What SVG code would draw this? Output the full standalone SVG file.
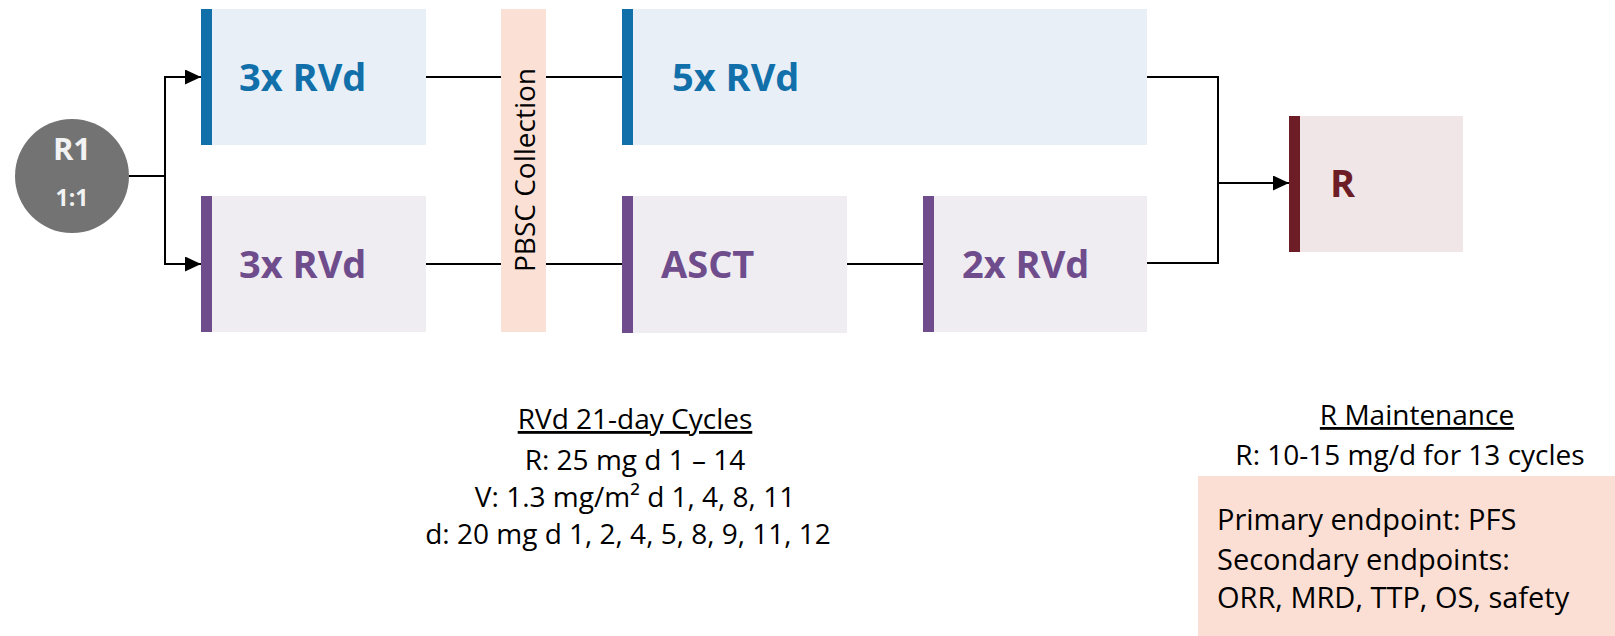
<svg xmlns="http://www.w3.org/2000/svg" width="1615" height="636" viewBox="0 0 1615 636">
  <style>
    .lbl { font-family: "Open Sans", "Liberation Sans", sans-serif; font-weight: 700; font-size: 38px; }
    .blue { fill: #1170AA; }
    .purple { fill: #6F4C8C; }
    .red { fill: #6D1D25; }
    .body { font-family: "Open Sans", "Liberation Sans", sans-serif; font-size: 28px; fill: #000000; }
    .ep { font-size: 29px; }
    .conn { fill: none; stroke: #000000; stroke-width: 2; }
  </style>
  <defs>
    <marker id="arrow" markerUnits="userSpaceOnUse" markerWidth="16" markerHeight="15" refX="16" refY="7.5" orient="auto">
      <path d="M0,0 L16,7.5 L0,15 z" fill="#000000"/>
    </marker>
  </defs>

  <rect width="1615" height="636" fill="#FFFFFF"/>

  <g id="connectors">
    <path class="conn" d="M129,176 H165"/>
    <path class="conn" d="M165,176 V77 H201" marker-end="url(#arrow)"/>
    <path class="conn" d="M165,176 V264 H201" marker-end="url(#arrow)"/>
    <path class="conn" d="M426,77 H501"/>
    <path class="conn" d="M546,77 H622"/>
    <path class="conn" d="M426,264 H501"/>
    <path class="conn" d="M546,264 H622"/>
    <path class="conn" d="M847,264 H923"/>
    <path class="conn" d="M1147,77 H1218 V263 H1147"/>
    <path class="conn" d="M1218,183 H1289" marker-end="url(#arrow)"/>
  </g>

  <g id="node-r1">
    <ellipse cx="72" cy="176" rx="57" ry="57" fill="#737373"/>
    <text x="72" y="160" text-anchor="middle" font-family="'Open Sans', 'Liberation Sans', sans-serif" font-weight="700" font-size="31" fill="#F2F2F2">R1</text>
    <text x="72" y="206" text-anchor="middle" font-family="'Open Sans', 'Liberation Sans', sans-serif" font-weight="700" font-size="23" fill="#F2F2F2">1:1</text>
  </g>

  <g id="node-top-3x">
    <rect x="201" y="9" width="225" height="136" fill="#E9EFF7"/>
    <rect x="201" y="9" width="11" height="136" fill="#1170AA"/>
    <text class="lbl blue" x="239" y="91">3x RVd</text>
  </g>

  <g id="node-bottom-3x">
    <rect x="201" y="196" width="225" height="136" fill="#EFEDF2"/>
    <rect x="201" y="196" width="11" height="136" fill="#6F4C8C"/>
    <text class="lbl purple" x="239" y="278">3x RVd</text>
  </g>

  <g id="node-pbsc">
    <rect x="501" y="9" width="45" height="323" fill="#FBE0D6"/>
    <text class="body" transform="translate(535,170) rotate(-90)" text-anchor="middle" font-size="29">PBSC Collection</text>
  </g>

  <g id="node-top-5x">
    <rect x="622" y="9" width="525" height="136" fill="#E9EFF7"/>
    <rect x="622" y="9" width="11" height="136" fill="#1170AA"/>
    <text class="lbl blue" x="672" y="91">5x RVd</text>
  </g>

  <g id="node-asct">
    <rect x="622" y="196" width="225" height="137" fill="#EFEDF2"/>
    <rect x="622" y="196" width="11" height="137" fill="#6F4C8C"/>
    <text class="lbl purple" x="661" y="278">ASCT</text>
  </g>

  <g id="node-bottom-2x">
    <rect x="923" y="196" width="224" height="136" fill="#EFEDF2"/>
    <rect x="923" y="196" width="11" height="136" fill="#6F4C8C"/>
    <text class="lbl purple" x="962" y="278">2x RVd</text>
  </g>

  <g id="node-r">
    <rect x="1289" y="116" width="174" height="136" fill="#F0E6E8"/>
    <rect x="1289" y="116" width="11" height="136" fill="#6D1D25"/>
    <text class="lbl red" x="1330" y="197">R</text>
  </g>

  <g id="rvd-cycles">
    <text class="body" x="635" y="429" text-anchor="middle" text-decoration="underline">RVd 21-day Cycles</text>
    <text class="body" x="635" y="470" text-anchor="middle">R: 25 mg d 1 – 14</text>
    <text class="body" x="635" y="507" text-anchor="middle">V: 1.3 mg/m² d 1, 4, 8, 11</text>
    <text class="body" x="628" y="544" text-anchor="middle">d: 20 mg d 1, 2, 4, 5, 8, 9, 11, 12</text>
  </g>

  <g id="r-maintenance">
    <text class="body" x="1417" y="425" text-anchor="middle" text-decoration="underline">R Maintenance</text>
    <text class="body" x="1410" y="465" text-anchor="middle">R: 10-15 mg/d for 13 cycles</text>
  </g>

  <g id="endpoints">
    <rect x="1198" y="476" width="417" height="160" fill="#FBDFD4"/>
    <text class="body ep" x="1217" y="530">Primary endpoint: PFS</text>
    <text class="body ep" x="1217" y="570">Secondary endpoints:</text>
    <text class="body ep" x="1217" y="608">ORR, MRD, TTP, OS, safety</text>
  </g>
</svg>
